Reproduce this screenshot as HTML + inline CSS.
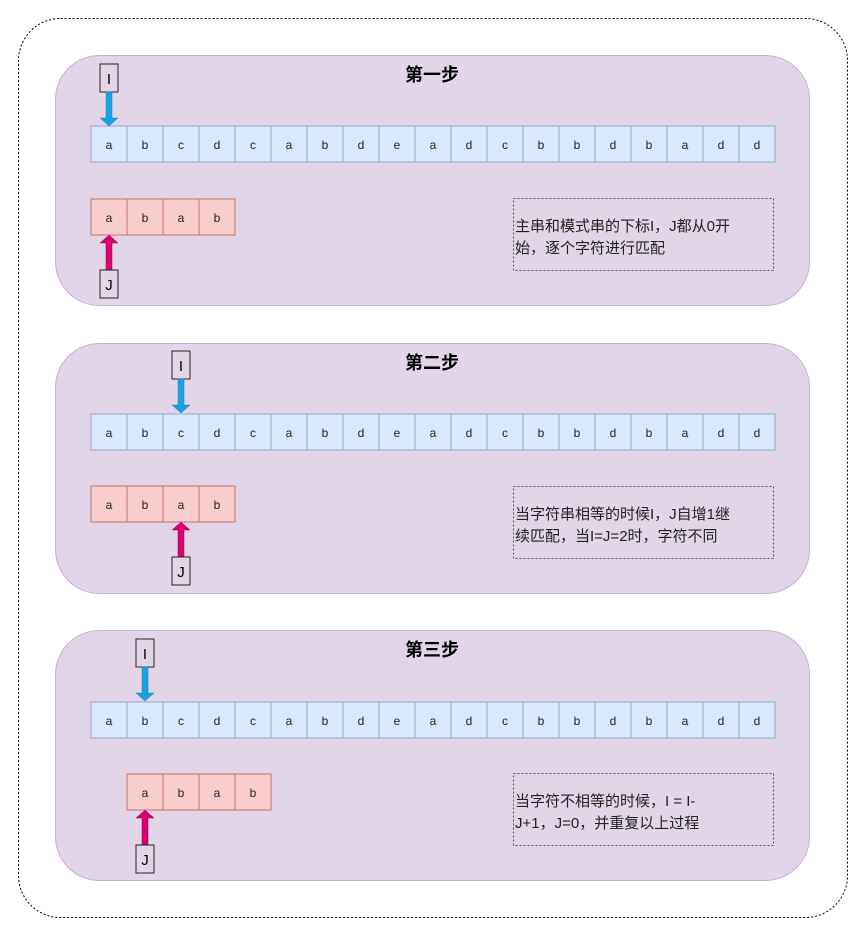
<!DOCTYPE html>
<html><head><meta charset="utf-8">
<style>
html,body{margin:0;padding:0;background:#fff;}
svg{display:block;}
text{font-family:"Liberation Sans","Noto Sans CJK SC",sans-serif;}
.c{font-size:12px;fill:#222;text-anchor:middle;}
.t{font-size:18px;font-weight:bold;fill:#000;text-anchor:middle;}
.d{font-size:15px;fill:#222;}
.l{font-size:15px;fill:#000;text-anchor:middle;}
</style></head><body>
<svg width="865" height="936" viewBox="0 0 865 936" xmlns="http://www.w3.org/2000/svg">
<defs>
<g id="main">
  <rect x="91" y="0" width="684" height="36" fill="#dae8fc" stroke="#8eacd4" stroke-width="1"/>
  <path d="M127 0v36M163 0v36M199 0v36M235 0v36M271 0v36M307 0v36M343 0v36M379 0v36M415 0v36M451 0v36M487 0v36M523 0v36M559 0v36M595 0v36M631 0v36M667 0v36M703 0v36M739 0v36" stroke="#8eacd4" stroke-width="1"/>
  <text class="c" y="23"><tspan x="109">a</tspan><tspan x="145">b</tspan><tspan x="181">c</tspan><tspan x="217">d</tspan><tspan x="253">c</tspan><tspan x="289">a</tspan><tspan x="325">b</tspan><tspan x="361">d</tspan><tspan x="397">e</tspan><tspan x="433">a</tspan><tspan x="469">d</tspan><tspan x="505">c</tspan><tspan x="541">b</tspan><tspan x="577">b</tspan><tspan x="613">d</tspan><tspan x="649">b</tspan><tspan x="685">a</tspan><tspan x="721">d</tspan><tspan x="757">d</tspan></text>
</g>
<g id="pat">
  <rect x="0" y="0" width="144" height="36" fill="#f8cecc" stroke="#c9716d" stroke-width="1"/>
  <path d="M36 0v36M72 0v36M108 0v36" stroke="#c9716d" stroke-width="1"/>
  <text class="c" y="23"><tspan x="18">a</tspan><tspan x="54">b</tspan><tspan x="90">a</tspan><tspan x="126">b</tspan></text>
</g>
<g id="iarr">
  <rect x="-9" y="0" width="18" height="28" fill="#e1d5e7" stroke="#222" stroke-width="1"/>
  <text class="l" x="0" y="20">I</text>
  <path d="M-3 28h6v26h6l-9 8l-9-8h6z" fill="#1ba1e2" stroke="#1a86b8" stroke-width="0.5"/>
</g>
<g id="jarr">
  <path d="M0 0l9 8h-6v27h-6v-27h-6z" fill="#d80073" stroke="#a50057" stroke-width="0.5"/>
  <rect x="-9" y="35" width="18" height="28" fill="#e1d5e7" stroke="#222" stroke-width="1"/>
  <text class="l" x="0" y="55">J</text>
</g>
</defs>

<rect x="18.5" y="18.5" width="829" height="899" rx="42" fill="#fff" stroke="#000" stroke-width="1" stroke-dasharray="2,2"/>

<!-- Panel 1 -->
<rect x="55.5" y="55.5" width="754" height="250" rx="44" fill="#e1d5e7" stroke="#c6b0d6" stroke-width="1"/>
<text class="t" x="432" y="81">第一步</text>
<use href="#main" transform="translate(0,126)"/>
<use href="#pat" transform="translate(91,199)"/>
<use href="#iarr" transform="translate(109,64)"/>
<use href="#jarr" transform="translate(109,235)"/>
<rect x="513.5" y="198.5" width="260" height="72" fill="none" stroke="#555" stroke-width="1" stroke-dasharray="2,2"/>
<text class="d" x="515" y="231">主串和模式串的下标I，J都从0开</text>
<text class="d" x="515" y="253">始，逐个字符进行匹配</text>

<!-- Panel 2 -->
<rect x="55.5" y="343.5" width="754" height="250" rx="44" fill="#e1d5e7" stroke="#c6b0d6" stroke-width="1"/>
<text class="t" x="432" y="369">第二步</text>
<use href="#main" transform="translate(0,414)"/>
<use href="#pat" transform="translate(91,486)"/>
<use href="#iarr" transform="translate(181,351)"/>
<use href="#jarr" transform="translate(181,522)"/>
<rect x="513.5" y="486.5" width="260" height="72" fill="none" stroke="#555" stroke-width="1" stroke-dasharray="2,2"/>
<text class="d" x="515" y="519">当字符串相等的时候I，J自增1继</text>
<text class="d" x="515" y="541">续匹配，当I=J=2时，字符不同</text>

<!-- Panel 3 -->
<rect x="55.5" y="630.5" width="754" height="250" rx="44" fill="#e1d5e7" stroke="#c6b0d6" stroke-width="1"/>
<text class="t" x="432" y="656">第三步</text>
<use href="#main" transform="translate(0,702)"/>
<use href="#pat" transform="translate(127,774)"/>
<use href="#iarr" transform="translate(145,639)"/>
<use href="#jarr" transform="translate(145,810)"/>
<rect x="513.5" y="773.5" width="260" height="72" fill="none" stroke="#555" stroke-width="1" stroke-dasharray="2,2"/>
<text class="d" x="515" y="806">当字符不相等的时候，I = I-</text>
<text class="d" x="515" y="828">J+1，J=0，并重复以上过程</text>
</svg>
</body></html>
